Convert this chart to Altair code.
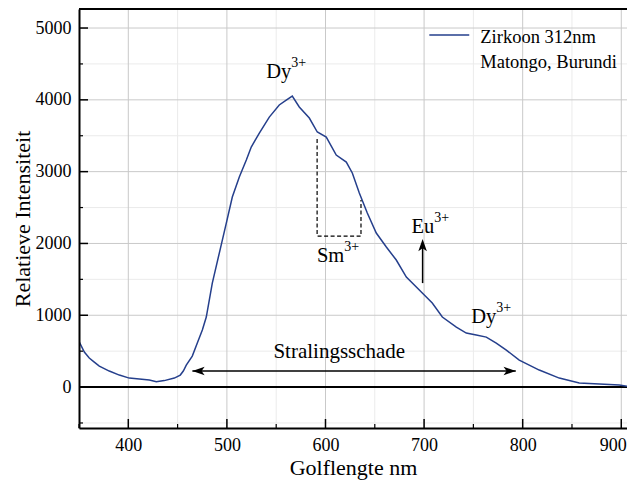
import altair as alt
import pandas as pd

# ---- data ----
wavelength = [349.3, 355.4, 360.4, 365.5, 370.6, 380.7, 390.9, 401.0, 411.2, 421.3,
              428.4, 436.5, 446.7, 452.7, 455.8, 458.8, 464.9, 470.0, 475.1, 479.1,
              485.2, 492.3, 499.4, 505.5, 512.6, 519.7, 524.7, 532.9, 543.0, 553.1,
              560.2, 566.3, 573.4, 583.6, 591.7, 600.8, 610.9, 621.1, 627.2, 634.3,
              642.4, 651.5, 661.7, 671.8, 682.0, 698.2, 708.3, 718.5, 732.7, 742.8,
              752.9, 763.1, 773.2, 783.4, 796.5, 816.8, 837.1, 857.4, 877.7, 898.0, 911.2]
intensity = [655, 487, 404, 348, 292, 223, 167, 125, 111, 97,
             75, 90, 125, 167, 223, 306, 432, 613, 794, 975,
             1448, 1866, 2284, 2646, 2925, 3162, 3343, 3538, 3760, 3928,
             3997, 4053, 3900, 3747, 3552, 3482, 3231, 3134, 2981, 2702,
             2423, 2145, 1950, 1769, 1532, 1309, 1170, 975, 836, 752,
             724, 696, 613, 515, 376, 237, 125, 56, 42, 28, 0]

x_major = [400, 500, 600, 700, 800, 900]
x_minor = [450, 550, 650, 750, 850]
x_minor_ticks = [350, 450, 550, 650, 750, 850]
y_major = [0, 1000, 2000, 3000, 4000, 5000]
y_minor = [-500, 500, 1500, 2500, 3500, 4500]

legend_lines = ["Zirkoon 312nm", "Matongo, Burundi"]
legend_y = [4791, 4443]
legend_x = 757
legend_seg = [705.3, 745.8, 4903]

ion_base = ["Dy", "Sm", "Eu", "Dy"]
ion_sup = ["3+", "3+", "3+", "3+"]
ion_x = [565.3, 619.1, 710.3, 773.2]
ion_y = [4304, 1745, 2145, 891]

bracket_x = [591.5, 591.5, 636.0, 636.0]
bracket_y = [3454, 2103, 2103, 2604]

damage_label = "Stralingsschade"
damage_label_pos = [614.0, 404]
damage_arrow = [465.0, 793.0, 223]
eu_arrow = [698.5, 1448, 2061]

# ---- styling ----
W, H = 548, 419
FONT = "Liberation Serif"
BLUE = "#253f8c"
xs = alt.Scale(domain=[350, 905.8], nice=False, zero=False)
ys = alt.Scale(domain=[-570, 5265], nice=False, zero=False)

spec = pd.DataFrame({"nm": wavelength, "val": intensity})

AX = dict(grid=False, ticks=False, tickSize=0, domainColor="black", domainWidth=2,
          labelFont=FONT, labelFontSize=18, labelColor="black", format="d",
          titleFont=FONT, titleFontSize=22, titleFontWeight="normal", titleColor="black",
          zindex=1, labelPadding=8)


def vrules(vals, color, width=1):
    return alt.Chart(pd.DataFrame({"v": vals})).mark_rule(color=color, strokeWidth=width).encode(
        x=alt.X("v:Q", scale=xs))


def hrules(vals, color, width=1):
    return alt.Chart(pd.DataFrame({"v": vals})).mark_rule(color=color, strokeWidth=width).encode(
        y=alt.Y("v:Q", scale=ys))


grid = (vrules(x_minor, "#ebebeb") + hrules(y_minor, "#ebebeb")
        + vrules(x_major, "#c9c9c9") + hrules(y_major[1:], "#c9c9c9"))

zero = hrules([0], "black", 2)

line = alt.Chart(spec).mark_line(color=BLUE, strokeWidth=1.5, clip=True).encode(
    x=alt.X("nm:Q", scale=xs, title="Golflengte nm",
            axis=alt.Axis(values=x_major, titlePadding=3, labelFlush=10, labelFlushOffset=5, **AX)),
    y=alt.Y("val:Q", scale=ys, title="Relatieve Intensiteit",
            axis=alt.Axis(values=y_major, titlePadding=1, **AX)),
)

# inside ticks
yt_major = alt.Chart(pd.DataFrame({"v": y_major})).mark_rule(color="black", strokeWidth=1.5).encode(
    y=alt.Y("v:Q", scale=ys), x=alt.value(0), x2=alt.value(9))
yt_minor = alt.Chart(pd.DataFrame({"v": y_minor})).mark_rule(color="black", strokeWidth=1.2).encode(
    y=alt.Y("v:Q", scale=ys), x=alt.value(0), x2=alt.value(4))
xt_major = alt.Chart(pd.DataFrame({"v": x_major})).mark_rule(color="black", strokeWidth=1.5).encode(
    x=alt.X("v:Q", scale=xs), y=alt.value(H), y2=alt.value(H - 9))
xt_minor = alt.Chart(pd.DataFrame({"v": x_minor_ticks})).mark_rule(color="black", strokeWidth=1.2).encode(
    x=alt.X("v:Q", scale=xs), y=alt.value(H), y2=alt.value(H - 4))
top = alt.Chart(pd.DataFrame({"v": [0]})).mark_rule(color="black", strokeWidth=2).encode(
    y=alt.value(0), x=alt.value(0), x2=alt.value(W))

# legend
leg_seg = alt.Chart(pd.DataFrame({"a": [legend_seg[0]], "b": [legend_seg[1]], "y": [legend_seg[2]]})).mark_rule(
    color=BLUE, strokeWidth=1.5).encode(
    x=alt.X("a:Q", scale=xs), x2="b:Q", y=alt.Y("y:Q", scale=ys))
leg_txt = alt.Chart(pd.DataFrame({"t": legend_lines, "x": [legend_x] * 2, "y": legend_y})).mark_text(
    align="left", baseline="alphabetic", font=FONT, fontSize=18.5, color="black").encode(
    x=alt.X("x:Q", scale=xs), y=alt.Y("y:Q", scale=ys), text="t:N")

# ion labels
ions = pd.DataFrame({"b": ion_base, "s": ion_sup, "x": ion_x, "y": ion_y})
ion_b = alt.Chart(ions).mark_text(align="right", baseline="alphabetic", font=FONT, fontSize=20.5,
                                  color="black").encode(
    x=alt.X("x:Q", scale=xs), y=alt.Y("y:Q", scale=ys), text="b:N")
ion_s = alt.Chart(ions).mark_text(align="left", baseline="alphabetic", font=FONT, fontSize=14,
                                  color="black", dx=0, dy=-11).encode(
    x=alt.X("x:Q", scale=xs), y=alt.Y("y:Q", scale=ys), text="s:N")

# Sm bracket
bracket = alt.Chart(pd.DataFrame({"x": bracket_x, "y": bracket_y, "o": list(range(4))})).mark_line(
    color="black", strokeWidth=1.2, strokeDash=[4, 2.5]).encode(
    x=alt.X("x:Q", scale=xs), y=alt.Y("y:Q", scale=ys), order="o:Q")

# arrows
ARROW = "M0,0L-2,-0.7L-1.5,0L-2,0.7Z"
dmg_line = alt.Chart(pd.DataFrame({"a": [damage_arrow[0]], "b": [damage_arrow[1]], "y": [damage_arrow[2]]})).mark_rule(
    color="black", strokeWidth=1.5).encode(
    x=alt.X("a:Q", scale=xs), x2="b:Q", y=alt.Y("y:Q", scale=ys))
eu_line = alt.Chart(pd.DataFrame({"x": [eu_arrow[0]], "a": [eu_arrow[1]], "b": [eu_arrow[2] - 80]})).mark_rule(
    color="black", strokeWidth=1.5).encode(
    x=alt.X("x:Q", scale=xs), y=alt.Y("a:Q", scale=ys), y2="b:Q")
heads = alt.Chart(pd.DataFrame({
    "x": [damage_arrow[0], damage_arrow[1], eu_arrow[0]],
    "y": [damage_arrow[2], damage_arrow[2], eu_arrow[2]],
    "ang": [180, 0, 270]})).mark_point(shape=ARROW, filled=True, color="black", size=150, opacity=1).encode(
    x=alt.X("x:Q", scale=xs), y=alt.Y("y:Q", scale=ys),
    angle=alt.Angle("ang:Q", scale=None))
dmg_txt = alt.Chart(pd.DataFrame({"t": [damage_label], "x": [damage_label_pos[0]], "y": [damage_label_pos[1]]})).mark_text(
    align="center", baseline="alphabetic", font=FONT, fontSize=21, color="black").encode(
    x=alt.X("x:Q", scale=xs), y=alt.Y("y:Q", scale=ys), text="t:N")

chart = alt.layer(
    grid, zero, line, bracket, dmg_line, eu_line, heads, dmg_txt, ion_b, ion_s,
    leg_seg, leg_txt, yt_major, yt_minor, xt_major, xt_minor, top
).properties(
    width=W, height=H,
    autosize=alt.AutoSizeParams(type="none"),
    padding={"left": 71, "top": 1, "right": 0, "bottom": 53},
).configure_view(stroke=None).configure(background="white")

chart.save("out.html", embed_options={"renderer": "svg", "actions": False})
